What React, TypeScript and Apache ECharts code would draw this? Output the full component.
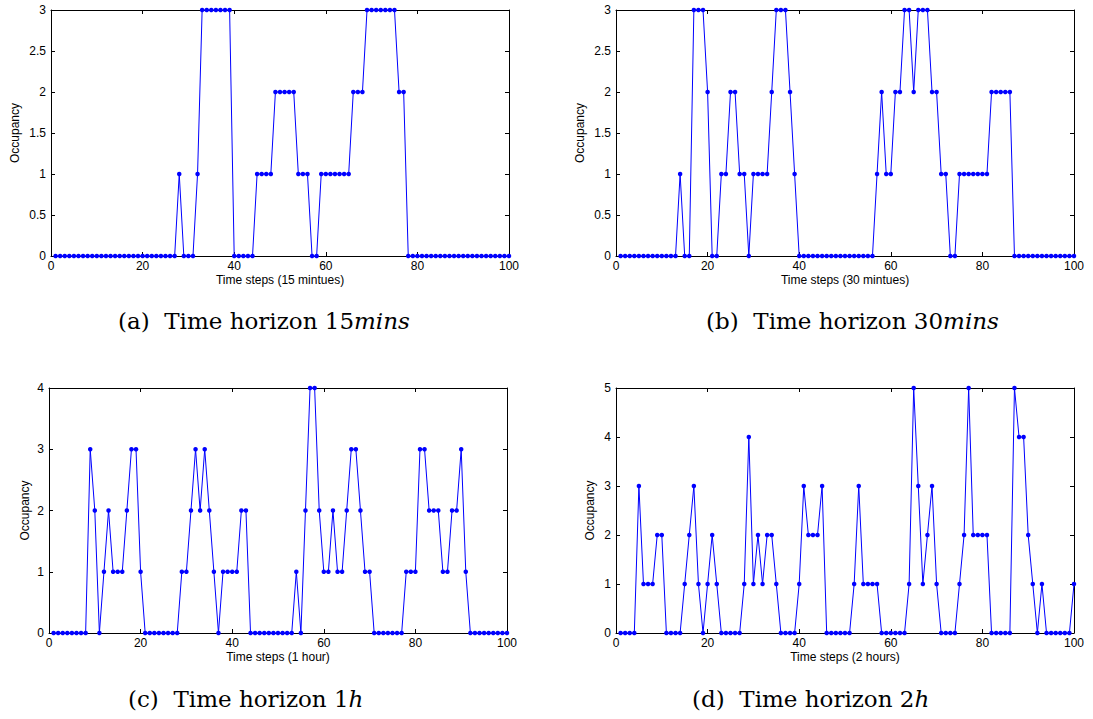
import React, { useEffect, useRef } from "react";
import * as echarts from "echarts";

// Occupancy values at time steps 1..100 for each horizon
const occ15min = [
  0, 0, 0, 0, 0, 0, 0, 0, 0, 0,
  0, 0, 0, 0, 0, 0, 0, 0, 0, 0,
  0, 0, 0, 0, 0, 0, 0, 1, 0, 0,
  0, 1, 3, 3, 3, 3, 3, 3, 3, 0,
  0, 0, 0, 0, 1, 1, 1, 1, 2, 2,
  2, 2, 2, 1, 1, 1, 0, 0, 1, 1,
  1, 1, 1, 1, 1, 2, 2, 2, 3, 3,
  3, 3, 3, 3, 3, 2, 2, 0, 0, 0,
  0, 0, 0, 0, 0, 0, 0, 0, 0, 0,
  0, 0, 0, 0, 0, 0, 0, 0, 0, 0,
];

const occ30min = [
  0, 0, 0, 0, 0, 0, 0, 0, 0, 0,
  0, 0, 0, 1, 0, 0, 3, 3, 3, 2,
  0, 0, 1, 1, 2, 2, 1, 1, 0, 1,
  1, 1, 1, 2, 3, 3, 3, 2, 1, 0,
  0, 0, 0, 0, 0, 0, 0, 0, 0, 0,
  0, 0, 0, 0, 0, 0, 1, 2, 1, 1,
  2, 2, 3, 3, 2, 3, 3, 3, 2, 2,
  1, 1, 0, 0, 1, 1, 1, 1, 1, 1,
  1, 2, 2, 2, 2, 2, 0, 0, 0, 0,
  0, 0, 0, 0, 0, 0, 0, 0, 0, 0,
];

const occ1h = [
  0, 0, 0, 0, 0, 0, 0, 0, 3, 2,
  0, 1, 2, 1, 1, 1, 2, 3, 3, 1,
  0, 0, 0, 0, 0, 0, 0, 0, 1, 1,
  2, 3, 2, 3, 2, 1, 0, 1, 1, 1,
  1, 2, 2, 0, 0, 0, 0, 0, 0, 0,
  0, 0, 0, 1, 0, 2, 4, 4, 2, 1,
  1, 2, 1, 1, 2, 3, 3, 2, 1, 1,
  0, 0, 0, 0, 0, 0, 0, 1, 1, 1,
  3, 3, 2, 2, 2, 1, 1, 2, 2, 3,
  1, 0, 0, 0, 0, 0, 0, 0, 0, 0,
];

const occ2h = [
  0, 0, 0, 0, 3, 1, 1, 1, 2, 2,
  0, 0, 0, 0, 1, 2, 3, 1, 0, 1,
  2, 1, 0, 0, 0, 0, 0, 1, 4, 1,
  2, 1, 2, 2, 1, 0, 0, 0, 0, 1,
  3, 2, 2, 2, 3, 0, 0, 0, 0, 0,
  0, 1, 3, 1, 1, 1, 1, 0, 0, 0,
  0, 0, 0, 1, 5, 3, 1, 2, 3, 1,
  0, 0, 0, 0, 1, 2, 5, 2, 2, 2,
  2, 0, 0, 0, 0, 0, 5, 4, 4, 2,
  1, 0, 1, 0, 0, 0, 0, 0, 0, 1,
];

const xNames = [
  "Time steps (15 mintues)",
  "Time steps (30 mintues)",
  "Time steps (1 hour)",
  "Time steps (2 hours)",
];
const yMaxes = [3, 3, 4, 5];
const yIntervals = [0.5, 0.5, 1, 1];
const captionLabels = ["(a)", "(b)", "(c)", "(d)"];
const captionMain = ["Time horizon 15", "Time horizon 30", "Time horizon 1", "Time horizon 2"];
const captionItalic = ["mins", "mins", "h", "h"];

const SANS = "'Liberation Sans', Arial, Helvetica, sans-serif";
const SERIF = "'DejaVu Serif', 'Liberation Serif', serif";

export default function App() {
  const ref = useRef<HTMLDivElement>(null);

  useEffect(() => {
    document.body.style.margin = "0";
    if (!ref.current) return;
    const chart = echarts.init(ref.current, undefined, { renderer: "svg" });

    const allData = [occ15min, occ30min, occ1h, occ2h];
    const grids = [
      { left: 51, top: 10, width: 458, height: 246 },
      { left: 616, top: 10, width: 458, height: 246 },
      { left: 49, top: 388, width: 458, height: 245 },
      { left: 616, top: 388, width: 458, height: 245 },
    ];
    const yNameGaps = [30, 30, 18, 20];
    const captionPos = [
      { x: 118, y: 309 },
      { x: 706, y: 309 },
      { x: 128, y: 687 },
      { x: 692, y: 687 },
    ];

    const xAxis: any[] = [];
    const yAxis: any[] = [];
    const series: any[] = [];
    const line = { show: true, onZero: false, lineStyle: { color: "#000", width: 1 } };
    const tick = { show: true, inside: true, length: 4, lineStyle: { color: "#000", width: 1 } };

    allData.forEach((arr, i) => {
      xAxis.push({
        gridIndex: i,
        type: "value",
        position: "bottom",
        min: 0,
        max: 100,
        interval: 20,
        axisLine: line,
        axisTick: tick,
        splitLine: { show: false },
        axisLabel: { color: "#000", fontSize: 12, fontFamily: SANS, margin: 4 },
        name: xNames[i],
        nameLocation: "middle",
        nameGap: 18,
        nameTextStyle: { color: "#000", fontSize: 12, fontFamily: SANS },
      });
      xAxis.push({
        gridIndex: i,
        type: "value",
        position: "top",
        min: 0,
        max: 100,
        interval: 20,
        axisLine: line,
        axisTick: tick,
        splitLine: { show: false },
        axisLabel: { show: false },
      });
      yAxis.push({
        gridIndex: i,
        type: "value",
        position: "left",
        min: 0,
        max: yMaxes[i],
        interval: yIntervals[i],
        axisLine: line,
        axisTick: tick,
        splitLine: { show: false },
        axisLabel: { color: "#000", fontSize: 12, fontFamily: SANS, margin: 5 },
        name: "Occupancy",
        nameLocation: "middle",
        nameGap: yNameGaps[i],
        nameTextStyle: { color: "#000", fontSize: 12, fontFamily: SANS },
      });
      yAxis.push({
        gridIndex: i,
        type: "value",
        position: "right",
        min: 0,
        max: yMaxes[i],
        interval: yIntervals[i],
        axisLine: line,
        axisTick: tick,
        splitLine: { show: false },
        axisLabel: { show: false },
      });
      series.push({
        type: "line",
        xAxisIndex: 2 * i,
        yAxisIndex: 2 * i,
        data: arr.map((v, k) => [k + 1, v]),
        symbol: "circle",
        symbolSize: 4.5,
        showSymbol: true,
        showAllSymbol: true,
        clip: false,
        lineStyle: { color: "#0000ff", width: 1 },
        itemStyle: { color: "#0000ff" },
        emphasis: { disabled: true },
      });
    });

    const graphic = captionLabels.map((lab, i) => ({
      type: "text",
      x: captionPos[i].x,
      y: captionPos[i].y,
      style: {
        text: `${lab}  ${captionMain[i]}{it|${captionItalic[i]}}`,
        fill: "#000",
        font: `23px ${SERIF}`,
        rich: {
          it: { fontStyle: "italic", fontSize: 23, fontFamily: SERIF, fill: "#000" },
        },
      },
    }));

    chart.setOption({
      animation: false,
      backgroundColor: "#fff",
      grid: grids.map((g) => ({ ...g, containLabel: false })),
      xAxis,
      yAxis,
      series,
      graphic,
    });

    return () => chart.dispose();
  }, []);

  return <div ref={ref} style={{ width: 1093, height: 719 }} />;
}
